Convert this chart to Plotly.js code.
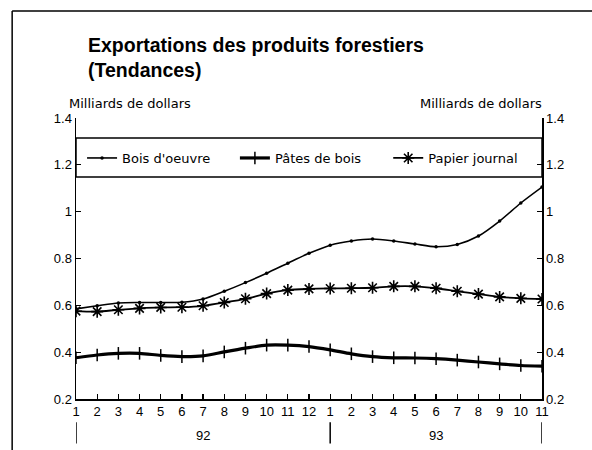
<!DOCTYPE html>
<html>
<head>
<meta charset="utf-8">
<script src="https://cdn.plot.ly/plotly-3.0.1.min.js"></script>
<style>html,body{margin:0;padding:0;background:#fff;}#chart{width:592px;height:450px;}</style>
</head>
<body>
<div id="chart"></div>
<script>
// Month labels (Jan 1992 .. Nov 1993)
const months = ["1","2","3","4","5","6","7","8","9","10","11","12","1","2","3","4","5","6","7","8","9","10","11"];
const years = ["92","92","92","92","92","92","92","92","92","92","92","92","93","93","93","93","93","93","93","93","93","93","93"];
// Series values, billions of dollars
const boisOeuvre = [0.585,0.598,0.61,0.612,0.612,0.613,0.627,0.66,0.697,0.737,0.78,0.822,0.857,0.875,0.883,0.875,0.862,0.85,0.86,0.896,0.96,1.037,1.105];
const patesBois = [0.376,0.388,0.395,0.395,0.386,0.381,0.384,0.401,0.417,0.43,0.43,0.424,0.41,0.393,0.381,0.376,0.375,0.372,0.366,0.358,0.35,0.343,0.34];
const papierJournal = [0.575,0.573,0.581,0.587,0.591,0.592,0.598,0.612,0.628,0.65,0.665,0.67,0.672,0.673,0.675,0.681,0.681,0.673,0.66,0.648,0.636,0.63,0.627];
const seriesNames = ["Bois d'oeuvre","Pâtes de bois","Papier journal"];
const titleText = "Exportations des produits forestiers<br>(Tendances)";
const unitText = "Milliards de dollars";

const xs = months.map((m,i)=>i);
const font = "Liberation Sans, Arial, sans-serif";
const wide = "DejaVu Sans, Verdana, sans-serif";

const traces = [
  {x: xs, y: boisOeuvre, name: seriesNames[0], type:'scatter', mode:'lines+markers', legend:'legend',
   line:{color:'#000', width:1.6, shape:'spline', smoothing:0.8},
   marker:{symbol:'circle', size:3.5, color:'#000'}},
  {x: xs, y: patesBois, name: seriesNames[1], type:'scatter', mode:'lines+markers', legend:'legend2',
   line:{color:'#000', width:3.2, shape:'spline', smoothing:0.8},
   marker:{symbol:'line-ns-open', size:9, color:'#000', line:{color:'#000', width:1.5}}},
  {x: xs, y: papierJournal, name: seriesNames[2], type:'scatter', mode:'lines+markers', legend:'legend3',
   line:{color:'#000', width:1.8, shape:'spline', smoothing:0.8},
   marker:{symbol:'asterisk-open', size:10, color:'#000', line:{color:'#000', width:1.6}}},
  {x: [xs[0], xs[xs.length-1]], y:[0.2,0.2], yaxis:'y2', mode:'lines', line:{width:0}, showlegend:false, hoverinfo:'skip'}
];

// Year separators and labels
const shapes = [];
const annotations = [];
const yearStarts = [];
years.forEach((y,i)=>{ if(i===0 || years[i-1]!==y) yearStarts.push(i); });
const sepPos = yearStarts.concat([xs.length-1]);
sepPos.forEach(p=>shapes.push({type:'line', xref:'x', yref:'paper', x0:p, x1:p, y0:-0.083, y1:-0.158, line:{color:'#000', width:1.5}}));
yearStarts.forEach((s,k)=>{
  const e = k+1<yearStarts.length ? yearStarts[k+1] : xs.length-1;
  annotations.push({xref:'x', yref:'paper', x:(s+e)/2, y:-0.13, text:years[s], showarrow:false,
    font:{family:font, size:13, color:'#000'}, xanchor:'center', yanchor:'middle'});
});
// Legend box
shapes.push({type:'rect', xref:'paper', yref:'y', x0:0, x1:1, y0:1.148, y1:1.315, line:{color:'#000', width:1.5}, fillcolor:'rgba(0,0,0,0)'});
// Outer frame (top and left)
shapes.push({type:'line', xref:'paper', yref:'paper', x0:-0.137, x1:1.2, y0:1.381, y1:1.381, line:{color:'#000', width:1.5}});
shapes.push({type:'line', xref:'paper', yref:'paper', x0:-0.137, x1:-0.137, y0:1.381, y1:-0.3, line:{color:'#000', width:1.5}});

annotations.push({xref:'paper', yref:'paper', x:-0.019, y:1.053, xanchor:'left', yanchor:'middle', text:unitText, showarrow:false, font:{family:wide, size:13, color:'#000'}});
annotations.push({xref:'paper', yref:'paper', x:1.004, y:1.053, xanchor:'right', yanchor:'middle', text:unitText, showarrow:false, font:{family:wide, size:13, color:'#000'}});

const yax = {range:[0.2,1.4], dtick:0.2, tick0:0.2, showgrid:false, zeroline:false, showline:true, linecolor:'#000', linewidth:1.5,
  ticks:'inside', ticklen:5, tickwidth:1.2, tickcolor:'#000', tickfont:{family:font, size:13, color:'#000'}, fixedrange:true};

const legendY = 1 - (158-118)/281;
const legBase = {orientation:'h', xanchor:'left', yref:'paper', yanchor:'middle', y:legendY,
  bgcolor:'rgba(0,0,0,0)', borderwidth:0, font:{family:wide, size:13, color:'#000'}, itemwidth:30};

const layout = {
  width:592, height:450,
  margin:{l:76, r:50, t:118, b:51},
  paper_bgcolor:'#fff', plot_bgcolor:'#fff',
  title:{text:titleText, x:88/592, xanchor:'left', y:1-52/450, yanchor:'top',
    font:{family:font, size:19.5, color:'#000', weight:'bold'}},
  showlegend:true,
  legend: Object.assign({}, legBase, {x:0.013}),
  legend2: Object.assign({}, legBase, {x:0.341}),
  legend3: Object.assign({}, legBase, {x:0.670}),
  xaxis:{range:[0, xs.length-1], tickmode:'array', tickvals:xs, ticktext:months, showgrid:false, zeroline:false,
    showline:true, linecolor:'#000', linewidth:1.5, ticks:'inside', ticklen:5, tickwidth:1.2, tickcolor:'#000',
    tickfont:{family:font, size:13, color:'#000'}, fixedrange:true},
  yaxis: Object.assign({}, yax, {side:'left'}),
  yaxis2: Object.assign({}, yax, {side:'right', overlaying:'y'}),
  shapes: shapes,
  annotations: annotations
};

Plotly.newPlot('chart', traces, layout, {displayModeBar:false, staticPlot:true});
</script>
</body>
</html>
